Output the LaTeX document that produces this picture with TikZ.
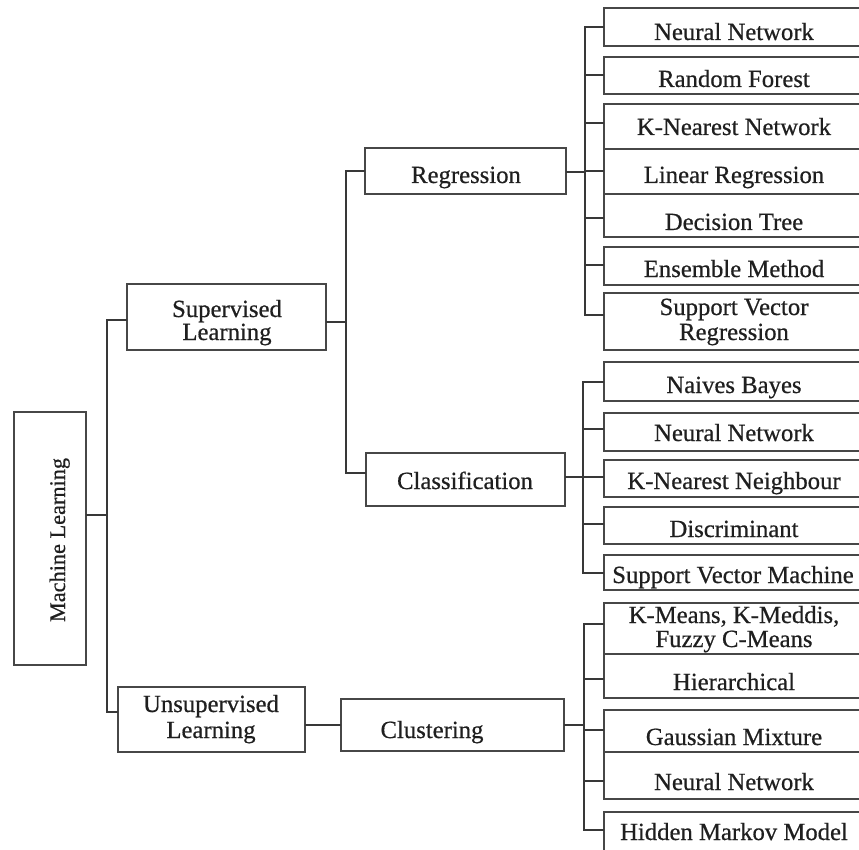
\documentclass[tikz,border=0pt]{standalone}
\usepackage{fontspec}
\setmainfont{Liberation Serif}[FakeBold=0.6]
\newcommand\mkbox[5]{\node[box, minimum width={#4-#2}, minimum height={#5-#3}] (#1) at ({(#2+#4)/2},{(#3+#5)/2}) {};}
\begin{document}
\begin{tikzpicture}[x=1pt,y=-1pt,
  box/.style={draw=black!72, line width=1.5pt, inner sep=0pt, outer sep=0pt},
  conn/.style={draw=black!78, line width=1.5pt},
  txt/.style={anchor=base, inner sep=0pt, text=black!88, font=\fontsize{24.7}{26}\selectfont}]
\useasboundingbox (0,0) rectangle (859,850);
\clip (0,0) rectangle (859,850);
% main boxes
\mkbox{ml}{14}{412}{86}{665}
\mkbox{sup}{127}{284}{326}{350}
\mkbox{uns}{118}{687}{305}{752}
\mkbox{reg}{365}{148}{566}{194}
\mkbox{cls}{366}{453}{565}{506}
\mkbox{clu}{341}{699}{564}{751}
% leaves: regression
\mkbox{r1}{604}{8}{870}{46}
\mkbox{r2}{604}{57}{870}{94}
\mkbox{r3}{604}{104}{870}{149}
\mkbox{r4}{604}{149}{870}{194}
\mkbox{r5}{604}{194}{870}{237}
\mkbox{r6}{604}{247}{870}{285}
\mkbox{r7}{604}{293}{870}{350}
% leaves: classification
\mkbox{c1}{604}{362}{870}{401}
\mkbox{c2}{604}{413}{870}{451}
\mkbox{c3}{604}{460}{870}{497}
\mkbox{c4}{604}{507}{870}{544}
\mkbox{c5}{604}{555}{870}{590}
% leaves: clustering
\mkbox{k1}{604}{603}{870}{654}
\mkbox{k2}{604}{654}{870}{698}
\mkbox{k3}{604}{710}{870}{752}
\mkbox{k4}{604}{752}{870}{799}
\mkbox{k5}{604}{812}{870}{870}
% texts
\node[txt, rotate=90, font=\fontsize{22.3}{24}\selectfont] (mlt) at (65,540) {Machine Learning};
\node[txt] (supt1) at (227,317) {Supervised};
\node[txt] (supt2) at (227,340) {Learning};
\node[txt] (unst1) at (211,712) {Unsupervised};
\node[txt] (unst2) at (211,738) {Learning};
\node[txt] (regt) at (466,183) {Regression};
\node[txt] (clst) at (465,489) {Classification};
\node[txt] (clut) at (432,738) {Clustering};
\node[txt] (r1t) at (734,40) {Neural Network};
\node[txt] (r2t) at (734,87) {Random Forest};
\node[txt] (r3t) at (734,135) {K-Nearest Network};
\node[txt] (r4t) at (734,183) {Linear Regression};
\node[txt] (r5t) at (734,230) {Decision Tree};
\node[txt] (r6t) at (734,277) {Ensemble Method};
\node[txt] (r7t1) at (734,315) {Support Vector};
\node[txt] (r7t2) at (734,340) {Regression};
\node[txt] (c1t) at (734,393) {Naives Bayes};
\node[txt] (c2t) at (734,441) {Neural Network};
\node[txt] (c3t) at (734,489) {K-Nearest Neighbour};
\node[txt] (c4t) at (734,537) {Discriminant};
\node[txt] (c5t) at (733,583) {Support Vector Machine};
\node[txt] (k1t1) at (734,623) {K-Means, K-Meddis,};
\node[txt] (k1t2) at (734,647) {Fuzzy C-Means};
\node[txt] (k2t) at (734,690) {Hierarchical};
\node[txt] (k3t) at (734,745) {Gaussian Mixture};
\node[txt] (k4t) at (734,790) {Neural Network};
\node[txt] (k5t) at (734,840) {Hidden Markov Model};
% junction coordinates
\coordinate (j0) at (107,515);
\coordinate (j1) at (346,322);
\coordinate (j2) at (585,172);
\coordinate (j3) at (583,477);
\coordinate (j4) at (584,725);
% connectors level 1
\draw[conn] (ml.east |- j0) -- (j0);
\draw[conn] (sup.west |- 0,320) -| (j0) |- (uns.west |- 0,712);
% level 2
\draw[conn] (sup.east |- j1) -- (j1);
\draw[conn] (reg.west |- 0,171) -| (j1) |- (cls.west |- 0,473);
\draw[conn] (uns.east |- 0,725) -- (clu.west |- 0,725);
% regression bus
\draw[conn] (reg.east |- j2) -- (j2);
\draw[conn] (r1.west |- 0,27) -| (j2) |- (r7.west |- 0,315);
\foreach \n/\y in {r2/75,r3/123,r4/171,r5/218,r6/265}
  \draw[conn] (j2 |- 0,\y) -- (\n.west |- 0,\y);
% classification bus
\draw[conn] (cls.east |- j3) -- (j3);
\draw[conn] (c1.west |- 0,382) -| (j3) |- (c5.west |- 0,573);
\foreach \n/\y in {c2/429,c3/477,c4/524}
  \draw[conn] (j3 |- 0,\y) -- (\n.west |- 0,\y);
% clustering bus
\draw[conn] (clu.east |- j4) -- (j4);
\draw[conn] (k1.west |- 0,624) -| (j4) |- (k5.west |- 0,830);
\foreach \n/\y in {k2/679,k3/730,k4/781}
  \draw[conn] (j4 |- 0,\y) -- (\n.west |- 0,\y);
\end{tikzpicture}
\end{document}
